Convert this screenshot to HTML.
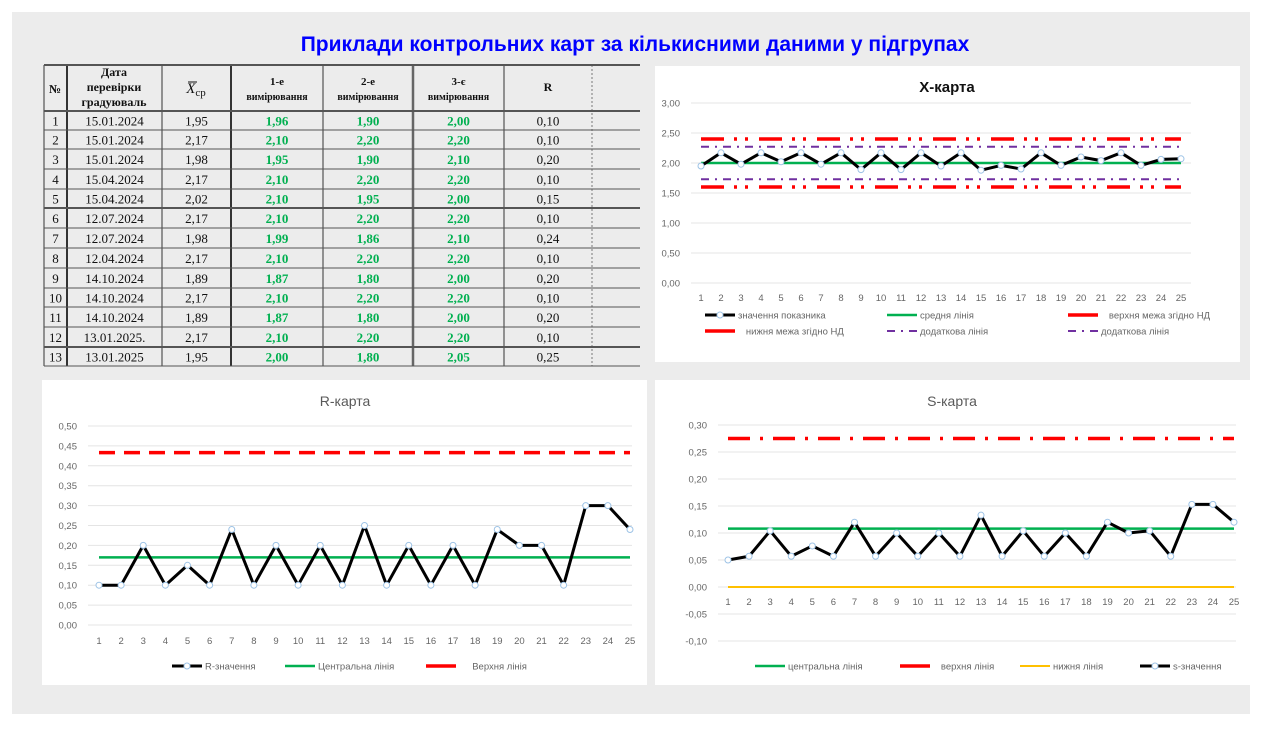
<!DOCTYPE html>
<html><head><meta charset="utf-8">
<style>
html,body{margin:0;padding:0;background:#fff;width:1270px;height:729px;overflow:hidden}
svg text{font-family:"Liberation Sans",sans-serif}
</style></head>
<body>
<svg id="s" width="1270" height="729" xmlns="http://www.w3.org/2000/svg">
<rect x="12" y="12" width="1238" height="702" fill="#ececec"/>
<text x="635" y="51" text-anchor="middle" font-size="21" font-weight="bold" fill="#0000ff">Приклади контрольних карт за кількисними даними у підгрупах</text>
<rect x="655" y="66" width="585" height="296" fill="#fff"/>
<rect x="42" y="380" width="605" height="305" fill="#fff"/>
<rect x="655" y="380" width="595" height="305" fill="#fff"/>
<g id="g"></g>
</svg>
<script>
var g=document.getElementById('g');var h='';
function L(x1,y1,x2,y2,c,w,d){h+='<line x1="'+x1+'" y1="'+y1+'" x2="'+x2+'" y2="'+y2+'" stroke="'+c+'" stroke-width="'+w+'"'+(d?' stroke-dasharray="'+d+'"':'')+'/>';}
function T(x,y,t,o){o=o||{};h+='<text x="'+x+'" y="'+y+'" font-size="'+(o.s||10)+'" fill="'+(o.c||'#595959')+'" text-anchor="'+(o.a||'middle')+'"'+(o.w?' font-weight="bold"':'')+(o.f?' style="font-family:\'Liberation Serif\',serif"':'')+'>'+t+'</text>';}
// table
var cols=[44,67,162,231,323,413,504,592,640];
var rows=[65,111,130,149,169,189,208,228,248,268,288,307,327,347,366];
for(var i=0;i<cols.length-1;i++){var w=(i==1||i==3)?2:(i==5?2.5:1);L(cols[i],65,cols[i],366,i==7?'#777':(i==5?'#666':'#333'),w,i==7?'2 2':null);}
for(var j=0;j<rows.length;j++){var w=(j==0||j==1||j==6||j==13)?2:1;L(44,rows[j],640,rows[j],'#555',w);}
var data=[["1","15.01.2024","1,95","1,96","1,90","2,00","0,10"],["2","15.01.2024","2,17","2,10","2,20","2,20","0,10"],["3","15.01.2024","1,98","1,95","1,90","2,10","0,20"],["4","15.04.2024","2,17","2,10","2,20","2,20","0,10"],["5","15.04.2024","2,02","2,10","1,95","2,00","0,15"],["6","12.07.2024","2,17","2,10","2,20","2,20","0,10"],["7","12.07.2024","1,98","1,99","1,86","2,10","0,24"],["8","12.04.2024","2,17","2,10","2,20","2,20","0,10"],["9","14.10.2024","1,89","1,87","1,80","2,00","0,20"],["10","14.10.2024","2,17","2,10","2,20","2,20","0,10"],["11","14.10.2024","1,89","1,87","1,80","2,00","0,20"],["12","13.01.2025.","2,17","2,10","2,20","2,20","0,10"],["13","13.01.2025","1,95","2,00","1,80","2,05","0,25"]];
for(var r=0;r<13;r++){var y=(rows[r+1]+rows[r+2])/2+5;for(var c=0;c<7;c++){var cx=(cols[c]+cols[c+1])/2;T(cx,y,data[r][c],{s:13,c:(c>=3&&c<=5)?'#00b050':'#111',w:(c>=3&&c<=5),f:1});}}
T(55,93,'№',{s:12,c:'#111',w:1,f:1});
T(114,76,'Дата',{s:12,c:'#111',w:1,f:1});T(114,91,'перевірки',{s:12,c:'#111',w:1,f:1});T(114,106,'градуюваль',{s:12,c:'#111',w:1,f:1});
h+='<text x="196" y="93" font-size="15" fill="#111" text-anchor="middle" style="font-family:\'Liberation Serif\',serif"><tspan font-style="italic">X</tspan><tspan font-size="11" dy="3">ср</tspan></text>';L(188,82,197,82,'#111',1);
var hd=['1-е','2-е','3-є'];for(var k=0;k<3;k++){var cx=(cols[3+k]+cols[4+k])/2;T(cx,85,hd[k],{s:11,c:'#111',w:1,f:1});T(cx,100,'вимірювання',{s:10,c:'#111',w:1,f:1});}
T(548,91,'R',{s:12,c:'#111',w:1,f:1});
function chart(o){
 var ys=function(v){return o.y0+(v-o.v0)*(o.y1-o.y0)/(o.v1-o.v0)};
 var xs=function(i){return o.p1+(i)*(o.p25-o.p1)/24};
 for(var v=o.v0;v<=o.v1+1e-9;v+=o.st){var y=ys(v);L(o.gx0,y,o.gx1,y,'#e4e4e4',1);T(o.lx,y+3.5,v.toFixed(2).replace('.',',').replace('-0,00','0,00'),{s:9.5,a:'end',c:'#666'});}
 for(var i=0;i<25;i++)T(xs(i),o.xly,i+1,{s:9.5,c:'#666'});
 o.lines.forEach(function(l){L(o.p1,ys(l.v),o.p25,ys(l.v),l.c,l.w,l.d)});
 var p=o.vals.map(function(v,i){return xs(i)+','+ys(v)}).join(' ');
 h+='<polyline points="'+p+'" fill="none" stroke="#000" stroke-width="3" stroke-linejoin="round"/>';
 o.vals.forEach(function(v,i){h+='<circle cx="'+xs(i)+'" cy="'+ys(v)+'" r="3" fill="#fff" stroke="#9dc3e6" stroke-width="1"/>'});
}
var mk=function(x,y,lab,c,d,w,m){L(x,y,x+30,y,c,w||3,d);if(m)h+='<circle cx="'+(x+15)+'" cy="'+y+'" r="3" fill="#fff" stroke="#9dc3e6"/>';T(x+33,y+3.5,lab,{s:9.5,a:'start',c:'#666'});};
T(947,92,'Х-карта',{s:15,c:'#111',w:1});
chart({y0:283,y1:103,v0:0,v1:3,st:0.5,gx0:691,gx1:1191,lx:680,p1:701,p25:1181,xly:301,
 vals:[1.95,2.17,1.98,2.17,2.02,2.17,1.98,2.17,1.89,2.17,1.89,2.17,1.95,2.17,1.88,1.96,1.90,2.17,1.96,2.10,2.04,2.17,1.96,2.06,2.07],
 lines:[{v:2.4,c:'#ff0000',w:3.5,d:'23 10 3 8 3 11'},{v:1.6,c:'#ff0000',w:3.5,d:'23 10 3 8 3 11'},{v:2.27,c:'#7030a0',w:2,d:'8 6 2 6'},{v:1.73,c:'#7030a0',w:2,d:'8 6 2 6'},{v:2.0,c:'#00b050',w:2.5}]});
mk(705,315,'значення показника','#000',null,3,1);mk(887,315,'средня лінія','#00b050',null,2.5);mk(1068,315,'&#160;&#160;&#160;верхня межа згідно НД','#ff0000',null,3.5);
mk(705,331,'&#160;&#160;&#160;нижня межа згідно НД','#ff0000',null,3.5);mk(887,331,'додаткова лінія','#7030a0','8 6 2 6',2);mk(1068,331,'додаткова лінія','#7030a0','8 6 2 6',2);
T(345,406,'R-карта',{s:14,c:'#595959'});
chart({y0:625,y1:426,v0:0,v1:0.5,st:0.05,gx0:88,gx1:632,lx:77,p1:99,p25:630,xly:644,
 vals:[.10,.10,.20,.10,.15,.10,.24,.10,.20,.10,.20,.10,.25,.10,.20,.10,.20,.10,.24,.20,.20,.10,.30,.30,.24],
 lines:[{v:0.433,c:'#ff0000',w:3.5,d:'16 9'},{v:0.17,c:'#00b050',w:2.5}]});
mk(172,666,'R-значення','#000',null,3,1);mk(285,666,'Центральна лінія','#00b050',null,2.5);mk(426,666,'&#160;&#160;&#160;&#160;&#160;Верхня лінія','#ff0000','22 0',3.5);
T(952,406,'S-карта',{s:14,c:'#595959'});
chart({y0:587,y1:425,v0:0,v1:0.3,st:0.05,gx0:718,gx1:1236,lx:707,p1:728,p25:1234,xly:605,
 vals:[.05,.057,.104,.057,.076,.057,.12,.057,.10,.057,.10,.057,.133,.057,.104,.057,.10,.057,.12,.10,.104,.057,.153,.153,.12],
 lines:[{v:0.275,c:'#ff0000',w:3.5,d:'22 10 3 10'},{v:0,c:'#ffc000',w:2},{v:0.108,c:'#00b050',w:2.5}]});
[-0.05,-0.10].forEach(function(v){var y=587+v*(425-587)/0.3;L(718,y,1236,y,'#e4e4e4',1);T(707,y+3.5,v.toFixed(2).replace('.',','),{s:9.5,a:'end',c:'#666'});});
mk(755,666,'центральна лінія','#00b050',null,2.5);mk(900,666,'&#160;&#160;&#160;верхня лінія','#ff0000','22 0',3.5);mk(1020,666,'нижня лінія','#ffc000',null,2);mk(1140,666,'s-значення','#000',null,3,1);
g.innerHTML=h;
</script>
</body></html>
